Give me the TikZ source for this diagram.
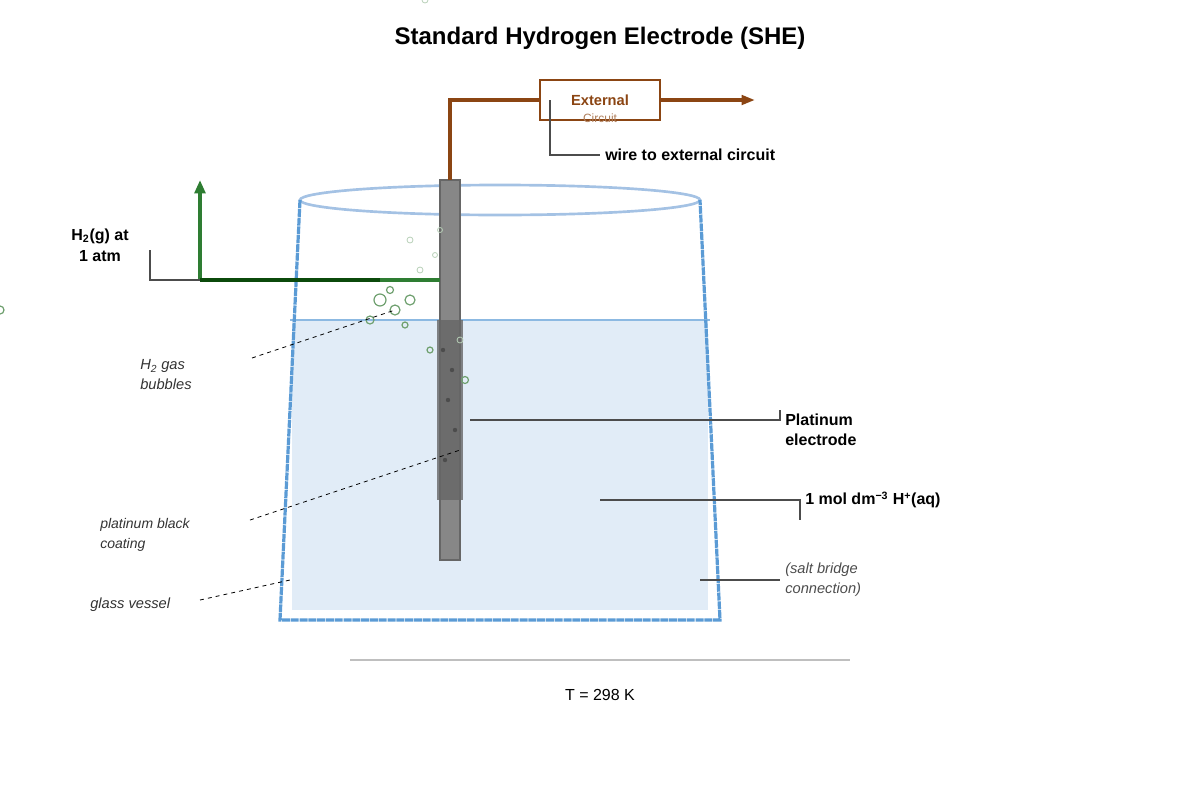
\documentclass[tikz,border=0pt]{standalone}
\usepackage{fontspec}
\setmainfont{Liberation Sans}
\usetikzlibrary{arrows.meta}
\definecolor{brn}{HTML}{8B4513}
\definecolor{vb}{HTML}{5B9BD5}
\definecolor{lb}{HTML}{A4C2E4}
\definecolor{liq}{HTML}{E1ECF7}
\definecolor{gr}{HTML}{2E7D32}
\definecolor{dgr}{HTML}{0B4A0B}
\definecolor{bub}{HTML}{6FA06F}
\begin{document}
\begin{tikzpicture}[x=0.75pt,y=-0.75pt,
  lbl/.style={font=\bfseries\fontsize{12}{15}\selectfont,align=left,anchor=west,inner sep=0pt},
  it/.style={font=\itshape\fontsize{11}{15}\selectfont,text=black!80,align=left,anchor=west,inner sep=0pt},
  lead/.style={draw=black!70,line width=0.9pt},
  dlead/.style={draw=black,dashed,line width=0.6pt},
  bubble/.style={draw=bub,line width=0.9pt},
  fbubble/.style={draw=bub!50,line width=0.6pt}]
\useasboundingbox (0,0) rectangle (1200,800);
\node[font=\bfseries\fontsize{18}{22}\selectfont] (title) at (600,38) {Standard Hydrogen Electrode (SHE)};
% liquid
\fill[liq] (292,320) rectangle (708,610);
\draw[color=vb!70,line width=1.2pt] (290,320) -- (710,320);
% vessel
\draw[lb,line width=2pt] (500,200) ellipse (200 and 15);
\draw[vb,line width=2.4pt,dash pattern=on 6pt off 0.6pt] (300,200) -- (280,620) -- (720,620) -- (700,200);
% electrode
\draw[fill=black!47,draw=black!60,line width=1pt] (440,180) rectangle (460,560);
\fill[black!60,opacity=0.8] (437,320) rectangle (463,500);
\foreach \p in {(443,350),(452,370),(448,400),(455,430),(445,460)} \fill[black!70] \p circle (2.2);
% external circuit
\node[draw=brn,line width=1.6pt,minimum width=90pt,minimum height=30pt] (box) at (600,100) {};
\node[font=\bfseries\fontsize{11}{13}\selectfont,text=brn] at (600,100) {External};
\node[font=\fontsize{9}{11}\selectfont,text=brn!70] at (600,118) {Circuit};
\coordinate (etop) at (450,180);
\draw[brn,line width=2.6pt] (etop) -- (450,100) -- (box.west);
\coordinate (aend) at (755,100);
\draw[brn,line width=2.6pt,-{Triangle[length=10pt,width=7pt]}] (box.east) -- (aend);
\node[lbl] (wl) at (605,155) {wire to external circuit};
\draw[lead] (550,100) -- (550,155) -- (600,155);
% hydrogen
\coordinate (g0) at (200,280);
\coordinate (g1) at (200,180);
\draw[gr,line width=2.6pt,-{Triangle[length=10pt,width=8pt]}] (g0) -- (g1);
\draw[dgr,line width=2.6pt] (g0) -- (380,280);
\draw[gr,line width=2.6pt] (380,280) -- (440,280);
\node[font=\bfseries\fontsize{12}{16}\selectfont,align=center] (hl) at (100,245) {H\textsubscript{2}(g) at\\1 atm};
\draw[lead] (150,250) -- (150,280) -- (g0);
% bubbles
\foreach \x/\y/\r in {380/300/6,390/290/3.5,395/310/5,410/300/5,370/320/4,405/325/3,430/350/3,465/380/3.5,0/310/4}
  \draw[bubble] (\x,\y) circle (\r);
\foreach \x/\y/\r in {410/240/3,435/255/2.5,420/270/3,440/230/2.5,460/340/3,425/0/3}
  \draw[fbubble] (\x,\y) circle (\r);
% labels
\node[it] (hb) at (140,375) {H\textsubscript{2} gas\\bubbles};
\draw[dlead] (252,358) -- (395,310);
\node[it,font=\itshape\fontsize{10.5}{15}\selectfont] (pb) at (100,535) {platinum black\\coating};
\draw[dlead] (250,520) -- (460,450);
\node[it] (gv) at (90,605) {glass vessel};
\draw[dlead] (200,600) -- (290,580);
\node[lbl] (pe) at (785,430) {Platinum\\electrode};
\draw[lead] (470,420) -- (780,420) -- (780,410);
\node[lbl] (hp) at (805,500) {1 mol dm\textsuperscript{−3} H\textsuperscript{+}(aq)};
\draw[lead] (600,500) -- (800,500) -- (800,520);
\node[it,text=black!70] (sb) at (785,580) {(salt bridge\\connection)};
\draw[lead] (700,580) -- (780,580);
\draw[black!25,line width=1.2pt] (350,660) -- (850,660);
\node[font=\fontsize{12}{15}\selectfont] (T) at (600,695) {T = 298 K};
\end{tikzpicture}
\end{document}
